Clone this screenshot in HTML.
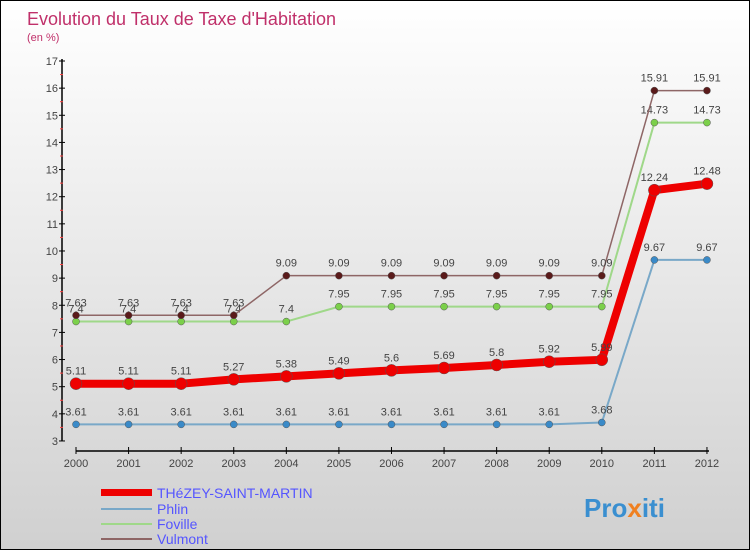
<!DOCTYPE html>
<html><head><meta charset="utf-8"><style>
body{margin:0}
#c{width:748px;height:548px;border:1px solid #000;position:relative;background:linear-gradient(#fff,#d0d0d0);overflow:hidden;font-family:"Liberation Sans",sans-serif}
</style></head><body>
<div id="c">
<svg id="s" width="748" height="548" xmlns="http://www.w3.org/2000/svg">
<text x="26" y="24" font-size="18" fill="#c0306a">Evolution du Taux de Taxe d'Habitation</text>
<text x="26" y="40" font-size="11" fill="#c0306a">(en %)</text>
<g id="axes"></g><g id="series"></g>
<g font-size="14" fill="#5555ff">
<rect x="100" y="488" width="51" height="7" fill="#e00"/>
<text x="156" y="497">THéZEY-SAINT-MARTIN</text>
<rect x="100" y="507" width="51" height="2" fill="#79a8c8"/>
<text x="156" y="513">Phlin</text>
<rect x="100" y="522" width="51" height="2" fill="#9fd889"/>
<text x="156" y="528">Foville</text>
<rect x="100" y="537" width="51" height="2" fill="#8e6666"/>
<text x="156" y="543">Vulmont</text>
</g>
<text x="583" y="516" font-size="26" font-weight="bold" fill="#3a8fd0">Pro<tspan fill="#f08020">x</tspan>iti</text>
</svg></div>
<script>
const years=[2000,2001,2002,2003,2004,2005,2006,2007,2008,2009,2010,2011,2012];
const yTicks=[3,4,5,6,7,8,9,10,11,12,13,14,15,16,17];
const thezey=[5.11,5.11,5.11,5.27,5.38,5.49,5.6,5.69,5.8,5.92,5.99,12.24,12.48];
const phlin=[3.61,3.61,3.61,3.61,3.61,3.61,3.61,3.61,3.61,3.61,3.68,9.67,9.67];
const foville=[7.4,7.4,7.4,7.4,7.4,7.95,7.95,7.95,7.95,7.95,7.95,14.73,14.73];
const vulmont=[7.63,7.63,7.63,7.63,9.09,9.09,9.09,9.09,9.09,9.09,9.09,15.91,15.91];
const NS="http://www.w3.org/2000/svg";
const X=i=>75+i*52.58, Y=v=>60+(17-v)*27.14;
function mk(t,a,p){const e=document.createElementNS(NS,t);for(const k in a)e.setAttribute(k,a[k]);p.appendChild(e);return e;}
const ax=document.getElementById('axes');
let e=mk('line',{x1:61,y1:58,x2:61,y2:440,stroke:'#000','stroke-width':1.5},ax);

e=mk('line',{x1:75,y1:450,x2:708,y2:450,stroke:'#000','stroke-width':1.5},ax);

yTicks.forEach(v=>{mk('line',{x1:58,y1:Y(v),x2:64,y2:Y(v),stroke:'#000'},ax);
if(v<17)mk('line',{x1:59,y1:Y(v+0.5),x2:62,y2:Y(v+0.5),stroke:'#f44'},ax);
const t=mk('text',{x:57,y:Y(v)+4,'text-anchor':'end','font-size':11,fill:'#444'},ax);t.textContent=v;
});
years.forEach((y,i)=>{mk('line',{x1:X(i),y1:446,x2:X(i),y2:453,stroke:'#000'},ax);
const t=mk('text',{x:X(i),y:466,'text-anchor':'middle','font-size':11,fill:'#444'},ax);t.textContent=y;
});
const sg=document.getElementById('series');
function draw(name,vals,col,dot,w,r){
const g=mk('g',{},sg);
const p=mk('polyline',{points:vals.map((v,i)=>X(i)+','+Y(v)).join(' '),fill:'none',stroke:col,'stroke-width':w,'stroke-linejoin':'round'},g);

vals.forEach((v,i)=>{const c=mk('circle',{cx:X(i),cy:Y(v),r:r,fill:dot,stroke:'#555','stroke-width':0.5},g);

const t=mk('text',{x:X(i),y:Y(v)-9,'text-anchor':'middle','font-size':11,fill:'#444'},g);t.textContent=v;
});}
draw('phlin',phlin,'#79a8c8','#3a8ac8',2,3.5);
draw('foville',foville,'#9fd889','#7bd04a',2,3.5);
draw('vulmont',vulmont,'#8e6666','#5a1a1a',1.5,3.5);
draw('thezey',thezey,'#ee0000','#ee0000',8,6);
</script></body></html>
